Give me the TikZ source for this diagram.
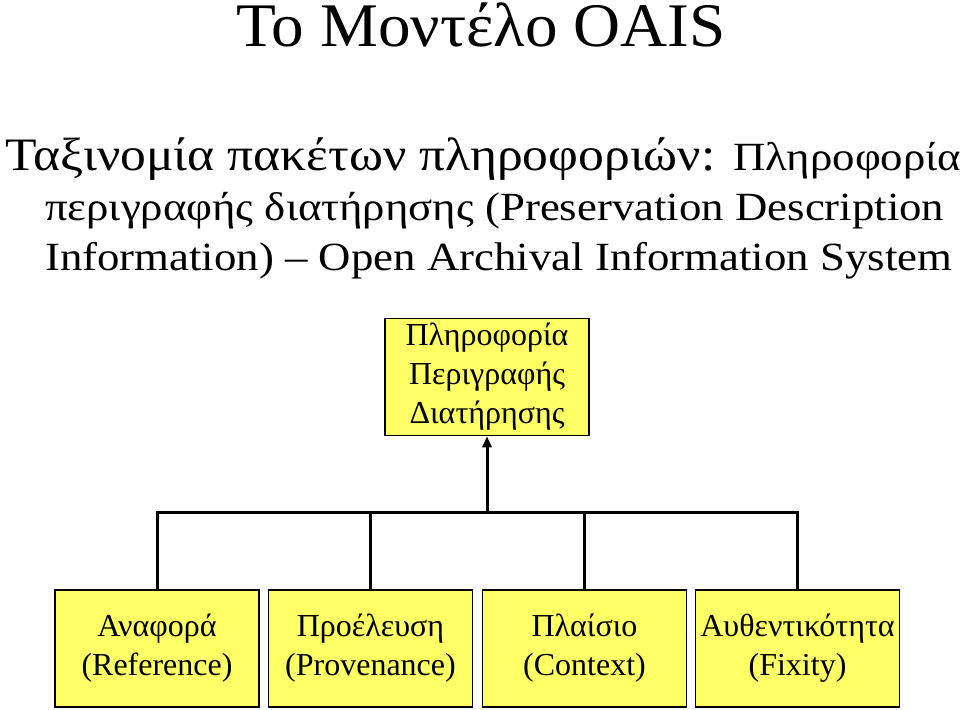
\documentclass[tikz,border=0pt]{standalone}
\usepackage{fontspec}
\usepackage{graphicx}
\setmainfont{Liberation Serif}
\usetikzlibrary{arrows.meta}

\begin{document}
\begin{tikzpicture}[x=1pt,y=-1pt]
% Define box colour and styles
\definecolor{pdiyellow}{RGB}{255,255,102}
\tikzset{
  infobox/.style={draw=black,line width=1.5pt,fill=pdiyellow,minimum width=204pt,minimum height=117pt,
    inner sep=0pt,align=center,font=\fontsize{32}{39}\selectfont},
  textline/.style={anchor=base west,inner sep=0pt,font=\fontsize{40}{48}\selectfont},
  treeline/.style={line width=3pt}
}
\useasboundingbox (0,0) rectangle (960,709);

% Title and text
\node[anchor=base,inner sep=0pt,font=\fontsize{62}{70}\selectfont] (title) at (481,47)
  {\scalebox{1.05}[1]{Το Μοντέλο OAIS}};
\node[textline,font=\fontsize{46.5}{54}\selectfont] (line1) at (5,170)
  {\scalebox{1.11}[1]{Ταξινομία πακέτων πληροφοριών:}};
\node[textline] (line1b) at (733,170) {\scalebox{1.12}[1]{Πληροφορία}};
\node[textline] (line2) at (45,220) {\scalebox{1.12}[1]{περιγραφής διατήρησης (Preservation Description}};
\node[textline] (line3) at (45,270) {\scalebox{1.12}[1]{Information) -- Open Archival Information System}};

% Draw boxes
\node[infobox] (pdi) at (487,377) {Πληροφορία\\Περιγραφής\\Διατήρησης};
\node[infobox] (ref) at (157,648.5) {Αναφορά\\(Reference)};
\node[infobox] (prov) at (370.5,648.5) {Προέλευση\\(Provenance)};
\node[infobox] (ctx) at (584.5,648.5) {Πλαίσιο\\(Context)};
\node[infobox] (fix) at (797.5,648.5) {Αυθεντικότητα\\(Fixity)};

% Draw tree
\coordinate (hub) at (487,512);
\draw[treeline,-{Triangle[length=11pt,width=9pt]}] (hub) -- (pdi.south);
\draw[treeline] (ref.north) -- (ref.north |- hub) -- (fix.north |- hub) -- (fix.north);
\draw[treeline] (prov.north) -- (prov.north |- hub);
\draw[treeline] (ctx.north) -- (ctx.north |- hub);
\end{tikzpicture}
\end{document}
